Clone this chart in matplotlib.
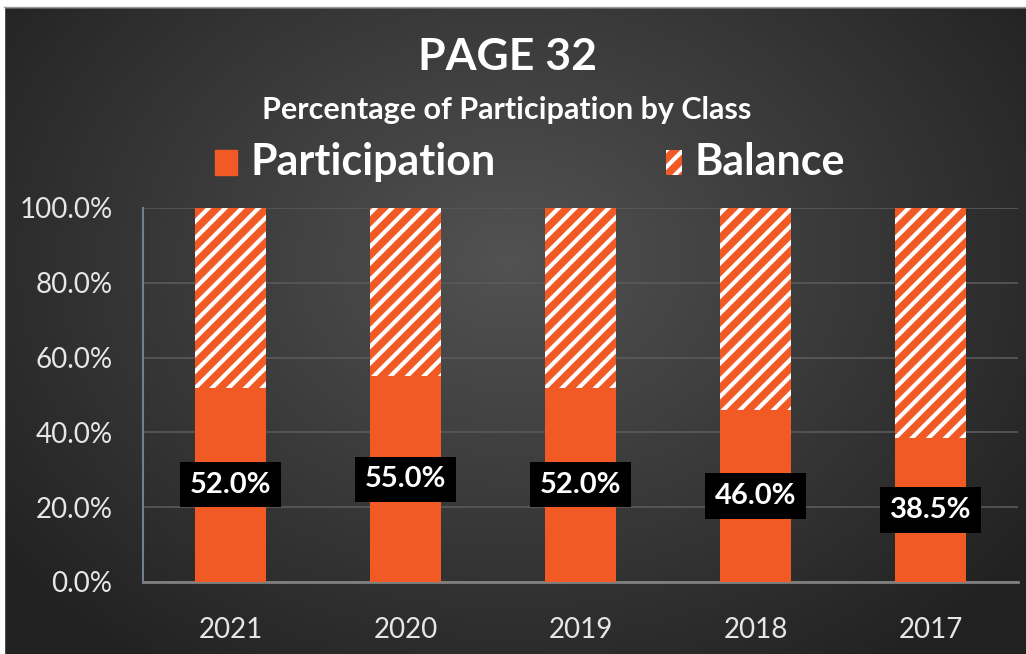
import numpy as np
import matplotlib.pyplot as plt
from matplotlib.patches import Rectangle

plt.rcParams['font.family'] = ['Lato', 'DejaVu Sans']
plt.rcParams['hatch.linewidth'] = 3

# data
years = ['2021', '2020', '2019', '2018', '2017']
participation = [0.52, 0.55, 0.52, 0.46, 0.385]
balance = [1 - p for p in participation]
labels = ['52.0%', '55.0%', '52.0%', '46.0%', '38.5%']

orange = '#F15A24'

fig = plt.figure(figsize=(10.26, 6.54), dpi=100)

# radial gradient background
bg = fig.add_axes([0, 0, 1, 1], zorder=0)
yy, xx = np.mgrid[0:654, 0:1026]
r = np.sqrt((xx - 510) ** 2 + ((yy - 260) * 1.3) ** 2) / 640
r = np.clip(r, 0, 1)
inner = np.array([82, 82, 82]) / 255
outer = np.array([34, 34, 34]) / 255
img = inner[None, None, :] * (1 - r[..., None]) + outer[None, None, :] * r[..., None]
bg.imshow(img, extent=[0, 1026, 654, 0], aspect='auto')
bg.set_xlim(0, 1026)
bg.set_ylim(654, 0)
bg.axis('off')
# white frame at top and left
bg.add_patch(Rectangle((0, 0), 1026, 7, color='white'))
bg.add_patch(Rectangle((0, 0), 4, 654, color='white'))
bg.plot([4, 1026], [7, 7], color='#9a9a9a', lw=1)

ax = fig.add_axes([143 / 1026, 1 - 582 / 654, 875 / 1026, 374 / 654], zorder=1)
ax.patch.set_alpha(0)
x = np.arange(len(years))
ax.bar(x, participation, width=0.41, color=orange, zorder=3)
ax.bar(x, balance, bottom=participation, width=0.41, facecolor=orange,
       edgecolor='white', linewidth=0, hatch='//', zorder=3)

for xi, p, lab in zip(x, participation, labels):
    ax.text(xi, p / 2, lab, ha='center', va='center', color='white',
            fontsize=21, fontweight='bold', zorder=5,
            bbox=dict(boxstyle='square,pad=0.33', fc='black', ec='none'))

ax.set_xlim(-0.5, 4.5)
ax.set_ylim(0, 1)
ax.set_yticks([0, 0.2, 0.4, 0.6, 0.8, 1.0])
ax.set_yticklabels(['0.0%', '20.0%', '40.0%', '60.0%', '80.0%', '100.0%'])
ax.set_xticks(x)
ax.set_xticklabels(years)
ax.tick_params(axis='both', length=0, colors='#e6e6e6', labelsize=20)
ax.tick_params(axis='y', pad=22)
ax.tick_params(axis='x', pad=25)
ax.grid(axis='y', color='#5a5a5a', lw=1.2, zorder=0)
for s in ['top', 'right']:
    ax.spines[s].set_visible(False)
ax.spines['left'].set_color('#6f7f95')
ax.spines['left'].set_linewidth(1.5)
ax.spines['bottom'].set_color('#808080')
ax.spines['bottom'].set_linewidth(2)

# titles
fig.text(508 / 1026, 1 - 57 / 654, 'PAGE 32', ha='center', va='center',
         color='white', fontsize=32, fontweight='bold')
fig.text(507 / 1026, 1 - 110 / 654, 'Percentage of Participation by Class',
         ha='center', va='center', color='white', fontsize=22, fontweight='bold')

# legend
bg.add_patch(Rectangle((215, 150), 22, 25, color=orange))
bg.add_patch(Rectangle((666, 150), 16, 25, facecolor=orange, edgecolor='white',
                       linewidth=0, hatch='//'))
bg.text(250, 162, 'Participation', ha='left', va='center', color='white',
        fontsize=31, fontweight='bold')
bg.text(694, 162, 'Balance', ha='left', va='center', color='white',
        fontsize=31, fontweight='bold')

fig.savefig('out.png', dpi=100)
